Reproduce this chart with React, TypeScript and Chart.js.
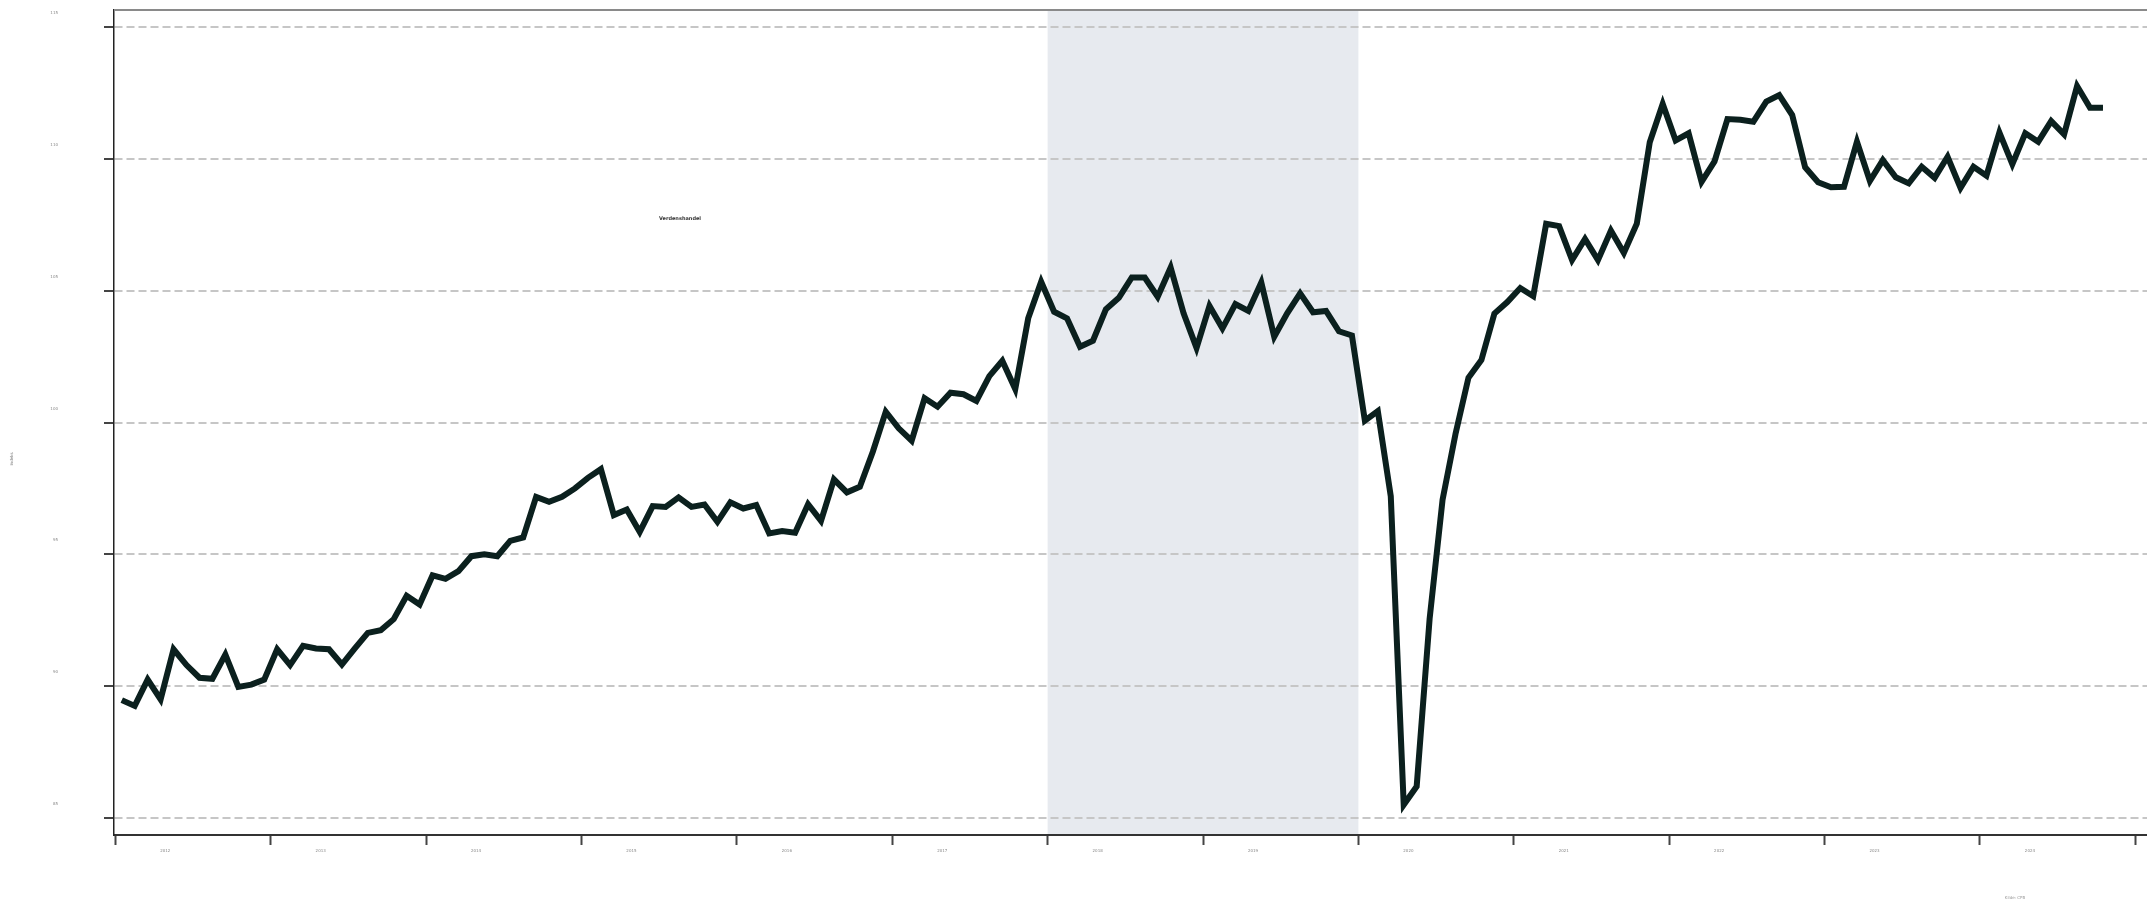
import { useEffect, useRef } from "react";
import { Chart, registerables } from "chart.js";

Chart.register(...registerables);

// ---- data ----
const SERIES_LABEL = "Verdenshandel";
const Y_TITLE = "Indeks";
const CAPTION = "Kilde: CPB";
const YEAR_LABELS = ["2012", "2013", "2014", "2015", "2016", "2017", "2018", "2019", "2020", "2021", "2022", "2023", "2024"];
const Y_TICKS = [85, 90, 95, 100, 105, 110, 115];
const SHADE_FROM = "2018";
const SHADE_TO = "2020";

// monthly values, Jan 2012 -> Oct 2024
const VALUES_2012_2014 = [
  89.47, 89.25, 90.25, 89.5, 91.4, 90.8, 90.32, 90.28, 91.2, 89.97, 90.06, 90.25,
  91.4, 90.8, 91.53, 91.43, 91.4, 90.82, 91.43, 92.02, 92.12, 92.54, 93.43, 93.1,
  94.2, 94.07, 94.36, 94.93, 95.0, 94.93, 95.51, 95.64, 97.18, 96.99, 97.18, 97.5,
];
const VALUES_2015_2017 = [
  97.9, 98.23, 96.49, 96.7, 95.85, 96.83, 96.8, 97.16, 96.8, 96.89, 96.23, 96.97,
  96.74, 96.87, 95.79, 95.88, 95.82, 96.9, 96.27, 97.84, 97.35, 97.56, 98.89, 100.41,
  99.78, 99.31, 100.92, 100.6, 101.13, 101.07, 100.82, 101.76, 102.34, 101.27, 103.95, 105.34,
];
const VALUES_2018_2020 = [
  104.2, 103.95, 102.87, 103.1, 104.29, 104.73, 105.5, 105.5, 104.77, 105.88, 104.14, 102.83,
  104.42, 103.57, 104.49, 104.23, 105.31, 103.25, 104.14, 104.9, 104.18, 104.23, 103.46, 103.3,
  100.07, 100.43, 97.2, 85.5, 86.2, 92.56, 97.07, 99.57, 101.7, 102.37, 104.13, 104.57,
];
const VALUES_2021_2024 = [
  105.1, 104.79, 107.54, 107.45, 106.16, 106.96, 106.16, 107.28, 106.43, 107.54, 110.63, 112.08,
  110.7, 110.97, 109.13, 109.9, 111.51, 111.48, 111.41, 112.17, 112.42, 111.66, 109.68, 109.11,
  108.92, 108.94, 110.65, 109.16, 109.95, 109.3, 109.07, 109.7, 109.28, 110.08, 108.9, 109.7,
  109.36, 111.0, 109.8, 110.97, 110.65, 111.43, 110.93, 112.76, 111.94, 111.94,
];
const VALUES = [...VALUES_2012_2014, ...VALUES_2015_2017, ...VALUES_2018_2020, ...VALUES_2021_2024];

const yearStart = (label: string) => YEAR_LABELS.indexOf(label) * 12 - 0.5;

const decor = {
  id: "decor",
  beforeDraw(chart: any) {
    const { ctx, chartArea, scales } = chart;
    ctx.save();
    ctx.fillStyle = "#ffffff";
    ctx.fillRect(0, 0, chart.width, chart.height);
    const x1 = scales.x.getPixelForValue(yearStart(SHADE_FROM));
    const x2 = scales.x.getPixelForValue(yearStart(SHADE_TO));
    ctx.fillStyle = "#e7eaef";
    ctx.fillRect(x1, chartArea.top, x2 - x1, chartArea.bottom - chartArea.top);
    ctx.restore();
  },
  afterDraw(chart: any) {
    const { ctx, chartArea } = chart;
    ctx.save();
    // top border
    ctx.strokeStyle = "#8a8a8a";
    ctx.lineWidth = 2;
    ctx.beginPath();
    ctx.moveTo(chartArea.left, chartArea.top);
    ctx.lineTo(chartArea.right, chartArea.top);
    ctx.stroke();
    // series label
    ctx.fillStyle = "#333333";
    ctx.font = "bold 5px 'DejaVu Sans'";
    ctx.textAlign = "center";
    ctx.textBaseline = "middle";
    ctx.fillText(SERIES_LABEL, 680, 219);
    // y title
    ctx.save();
    ctx.translate(12, 459);
    ctx.rotate(-Math.PI / 2);
    ctx.fillStyle = "#777777";
    ctx.font = "4px 'DejaVu Sans'";
    ctx.fillText(Y_TITLE, 0, 0);
    ctx.restore();
    // caption
    ctx.fillStyle = "#999999";
    ctx.font = "4px 'DejaVu Sans'";
    ctx.textAlign = "center";
    ctx.textBaseline = "top";
    ctx.fillText(CAPTION, 2015, 896);
    ctx.restore();
  },
};

export default function App() {
  const ref = useRef<HTMLCanvasElement | null>(null);

  useEffect(() => {
    document.body.style.margin = "0";
    document.body.style.overflow = "hidden";
    document.documentElement.style.overflow = "hidden";
    const canvas = ref.current!;
    const chart = new Chart(canvas, {
      type: "line",
      data: {
        datasets: [
          {
            label: SERIES_LABEL,
            data: VALUES.map((v, i) => ({ x: i, y: v })),
            borderColor: "#0b201e",
            borderWidth: 6,
            pointRadius: 0,
            tension: 0,
            borderJoinStyle: "miter",
            borderCapStyle: "butt",
            fill: false,
          },
        ],
      },
      options: {
        animation: false,
        responsive: false,
        devicePixelRatio: 1,
        layout: { padding: { top: 10, right: 0, left: 0, bottom: 0 } },
        plugins: {
          legend: { display: false },
          tooltip: { enabled: false },
          title: { display: false },
        },
        scales: {
          x: {
            type: "linear",
            min: -0.6,
            max: 156.4,
            afterFit: (s: any) => {
              s.height = 64;
              s.paddingLeft = 0;
              s.paddingRight = 0;
            },
            afterBuildTicks: (axis: any) => {
              axis.ticks = [...YEAR_LABELS, ""].map((_, k) => ({ value: k * 12 - 0.5 }));
            },
            ticks: {
              autoSkip: false,
              maxRotation: 0,
              labelOffset: 50,
              padding: 4,
              color: "#888888",
              font: { size: 4, family: "DejaVu Sans" },
              callback: (_v: any, i: number) => YEAR_LABELS[i] ?? "",
            },
            grid: {
              drawOnChartArea: false,
              tickLength: 10,
              tickColor: "#444444",
              tickWidth: 2,
            },
            border: { color: "#333333", width: 2 },
          },
          y: {
            type: "linear",
            min: 84.355,
            max: 115.645,
            afterFit: (s: any) => {
              s.width = 114;
              s.paddingTop = 0;
              s.paddingBottom = 0;
            },
            afterBuildTicks: (axis: any) => {
              axis.ticks = Y_TICKS.map((v) => ({ value: v }));
            },
            ticks: {
              labelOffset: -14,
              padding: 46,
              color: "#888888",
              font: { size: 4, family: "DejaVu Sans" },
            },
            grid: {
              color: "#c6c6c6",
              lineWidth: 2,
              tickLength: 10,
              tickColor: "#444444",
              tickWidth: 2,
            },
            border: { color: "#222222", width: 1.5, dash: [8, 4] },
          },
        },
      },
      plugins: [decor],
    });
    return () => chart.destroy();
  }, []);

  return <canvas ref={ref} width={2147} height={899} style={{ display: "block" }} />;
}
